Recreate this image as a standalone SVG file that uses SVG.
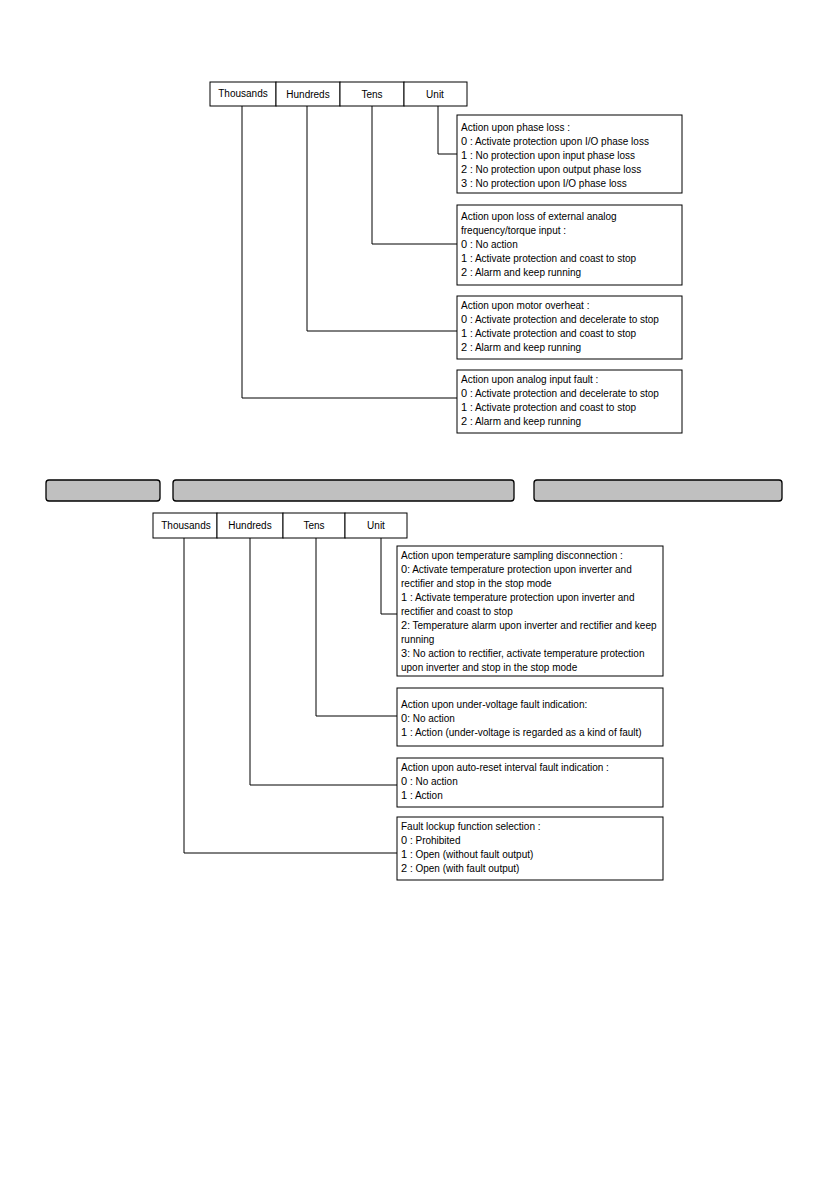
<svg xmlns="http://www.w3.org/2000/svg" width="840" height="1190" viewBox="0 0 840 1190">
<style>
.bg{fill:#ffffff}
.cell{fill:#ffffff;stroke:#000;stroke-width:1}
.box{fill:#ffffff;stroke:#000;stroke-width:1}
.bar{fill:#c0c0c0;stroke:#000;stroke-width:1.3}
.conn{fill:none;stroke:#000;stroke-width:1}
text{font-family:"Liberation Sans",Arial,sans-serif;font-size:10px;fill:#000}
.hd{text-anchor:middle}
.d{font-size:11px}
</style>
<rect class="bg" x="0" y="0" width="840" height="1190"/>

<g id="header-top">
<rect class="cell" x="210" y="82" width="66" height="24"/>
<rect class="cell" x="276" y="82" width="64" height="24"/>
<rect class="cell" x="340" y="82" width="64" height="24"/>
<rect class="cell" x="404" y="82" width="63" height="24"/>
<text class="hd" x="243" y="97">Thousands</text>
<text class="hd" x="308" y="98">Hundreds</text>
<text class="hd" x="372" y="98">Tens</text>
<text class="hd" x="435" y="98">Unit</text>
</g>

<g id="connectors">
<polyline class="conn" points="438,106 438,154 457,154"/>
<polyline class="conn" points="372,106 372,244 457,244"/>
<polyline class="conn" points="307,106 307,331 457,331"/>
<polyline class="conn" points="242,106 242,398 457,398"/>
<polyline class="conn" points="381,538 381,614 397,614"/>
<polyline class="conn" points="316,538 316,716 397,716"/>
<polyline class="conn" points="250,538 250,785 397,785"/>
<polyline class="conn" points="184,538 184,853 397,853"/>
</g>

<g id="box-phase-loss">
<rect class="box" x="457" y="115" width="225" height="78"/>
<text x="461" y="130.5">Action upon phase loss :</text>
<text x="461" y="144.5"><tspan class="d">0</tspan> : Activate protection upon I/O phase loss</text>
<text x="461" y="158.5"><tspan class="d">1</tspan> : No protection upon input phase loss</text>
<text x="461" y="172.5"><tspan class="d">2</tspan> : No protection upon output phase loss</text>
<text x="461" y="186.5"><tspan class="d">3</tspan> : No protection upon I/O phase loss</text>
</g>

<g id="box-analog-loss">
<rect class="box" x="457" y="205" width="225" height="80"/>
<text x="461" y="219.5">Action upon loss of external analog</text>
<text x="461" y="233.5">frequency/torque input :</text>
<text x="461" y="248"><tspan class="d">0</tspan> : No action</text>
<text x="461" y="262"><tspan class="d">1</tspan> : Activate protection and coast to stop</text>
<text x="461" y="276"><tspan class="d">2</tspan> : Alarm and keep running</text>
</g>

<g id="box-motor-overheat">
<rect class="box" x="457" y="296" width="225" height="63"/>
<text x="461" y="308.5">Action upon motor overheat :</text>
<text x="461" y="322.5"><tspan class="d">0</tspan> : Activate protection and decelerate to stop</text>
<text x="461" y="336.5"><tspan class="d">1</tspan> : Activate protection and coast to stop</text>
<text x="461" y="350.5"><tspan class="d">2</tspan> : Alarm and keep running</text>
</g>

<g id="box-analog-fault">
<rect class="box" x="457" y="370" width="225" height="63"/>
<text x="461" y="382.5">Action upon analog input fault :</text>
<text x="461" y="396.5"><tspan class="d">0</tspan> : Activate protection and decelerate to stop</text>
<text x="461" y="410.5"><tspan class="d">1</tspan> : Activate protection and coast to stop</text>
<text x="461" y="424.5"><tspan class="d">2</tspan> : Alarm and keep running</text>
</g>

<g id="bars">
<rect class="bar" x="46" y="480" width="114" height="21" rx="3"/>
<rect class="bar" x="173" y="480" width="341" height="21" rx="3"/>
<rect class="bar" x="534" y="480" width="248" height="21" rx="3"/>
</g>

<g id="header-bottom">
<rect class="cell" x="153" y="513" width="64" height="25"/>
<rect class="cell" x="217" y="513" width="66" height="25"/>
<rect class="cell" x="283" y="513" width="62" height="25"/>
<rect class="cell" x="345" y="513" width="62" height="25"/>
<text class="hd" x="186" y="529">Thousands</text>
<text class="hd" x="250" y="529">Hundreds</text>
<text class="hd" x="314" y="529">Tens</text>
<text class="hd" x="376" y="529">Unit</text>
</g>

<g id="box-temp-sampling">
<rect class="box" x="397" y="546" width="266" height="130"/>
<text x="401" y="558.5">Action upon temperature sampling disconnection :</text>
<text x="401" y="572.5"><tspan class="d">0</tspan>: Activate temperature protection upon inverter and</text>
<text x="401" y="586.5">rectifier and stop in the stop mode</text>
<text x="401" y="600.5"><tspan class="d">1</tspan> : Activate temperature protection upon inverter and</text>
<text x="401" y="614.5">rectifier and coast to stop</text>
<text x="401" y="628.5"><tspan class="d">2</tspan>: Temperature alarm upon inverter and rectifier and keep</text>
<text x="401" y="642.5">running</text>
<text x="401" y="656.5"><tspan class="d">3</tspan>: No action to rectifier, activate temperature protection</text>
<text x="401" y="670.5">upon inverter and stop in the stop mode</text>
</g>

<g id="box-undervoltage">
<rect class="box" x="397" y="688" width="266" height="58"/>
<text x="401" y="707.5">Action upon under-voltage fault indication:</text>
<text x="401" y="721.5"><tspan class="d">0</tspan>: No action</text>
<text x="401" y="735.5"><tspan class="d">1</tspan> : Action (under-voltage is regarded as a kind of fault)</text>
</g>

<g id="box-autoreset">
<rect class="box" x="397" y="758" width="266" height="49"/>
<text x="401" y="770.5">Action upon auto-reset interval fault indication :</text>
<text x="401" y="784.5"><tspan class="d">0</tspan> : No action</text>
<text x="401" y="798.5"><tspan class="d">1</tspan> : Action</text>
</g>

<g id="box-fault-lockup">
<rect class="box" x="397" y="817" width="266" height="63"/>
<text x="401" y="829.5">Fault lockup function selection :</text>
<text x="401" y="843.5"><tspan class="d">0</tspan> : Prohibited</text>
<text x="401" y="857.5"><tspan class="d">1</tspan> : Open (without fault output)</text>
<text x="401" y="871.5"><tspan class="d">2</tspan> : Open (with fault output)</text>
</g>
</svg>
